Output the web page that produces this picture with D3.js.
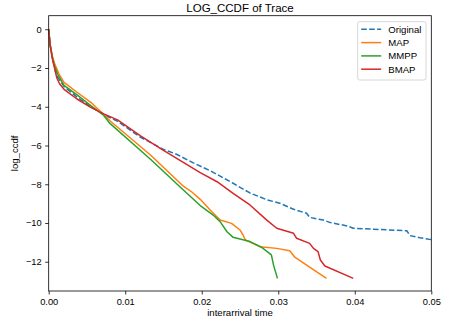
<!DOCTYPE html>
<html>
<head>
<meta charset="utf-8">
<script src="https://cdn.jsdelivr.net/npm/d3@7"></script>
<style>
  body { margin: 0; background: #fff; }
  svg text { font-family: "Liberation Sans", Arial, sans-serif; }
</style>
</head>
<body>
<div id="place"></div>
<script>
// series: [interarrival time, log_ccdf]
const original = [[0,0],[0.00017,-0.76],[0.00047,-1.45],[0.0007,-1.85],[0.0009,-2.2],[0.00105,-2.4],[0.0013,-2.55],[0.002,-2.95],[0.0037,-3.5],[0.0055,-4.0],[0.0072,-4.4],[0.009,-4.75],[0.0119,-5.55],[0.015,-6.2],[0.0167,-6.45],[0.0189,-6.9],[0.0211,-7.3],[0.0241,-7.95],[0.0263,-8.45],[0.0285,-8.8],[0.0302,-8.98],[0.032,-9.29],[0.0337,-9.5],[0.0341,-9.71],[0.0359,-9.85],[0.0368,-9.98],[0.039,-10.15],[0.0398,-10.27],[0.0468,-10.4],[0.0472,-10.65],[0.0485,-10.76],[0.05,-10.86]];
const map = [[0,0],[0.00017,-0.74],[0.0005,-1.42],[0.0008,-1.8],[0.00135,-2.31],[0.002,-2.74],[0.0037,-3.25],[0.0055,-3.77],[0.0072,-4.4],[0.008,-4.72],[0.0133,-6.49],[0.0176,-8.1],[0.0187,-8.4],[0.0198,-8.78],[0.0211,-9.33],[0.0224,-9.85],[0.0239,-10.02],[0.025,-10.36],[0.0254,-10.62],[0.0257,-10.88],[0.0267,-11.05],[0.0276,-11.22],[0.0298,-11.31],[0.0315,-11.43],[0.0322,-11.78],[0.0363,-12.86]];
const mmpp = [[0,0],[0.00017,-0.76],[0.00047,-1.45],[0.0007,-1.82],[0.0012,-2.35],[0.002,-2.9],[0.0037,-3.39],[0.0055,-3.94],[0.0072,-4.45],[0.008,-4.86],[0.0133,-6.71],[0.0176,-8.3],[0.0198,-9.1],[0.0215,-9.59],[0.0224,-9.93],[0.0233,-10.45],[0.0241,-10.74],[0.0263,-10.96],[0.0278,-11.25],[0.0291,-11.65],[0.0294,-12.2],[0.0299,-12.86]];
const bmap = [[0,0],[0.00017,-0.78],[0.00047,-1.5],[0.0007,-1.9],[0.00105,-2.5],[0.0014,-2.8],[0.002,-3.1],[0.0037,-3.6],[0.0055,-4.03],[0.0072,-4.37],[0.009,-4.68],[0.012,-5.5],[0.015,-6.25],[0.0198,-7.4],[0.022,-7.87],[0.0241,-8.47],[0.0263,-9.07],[0.0285,-9.85],[0.0298,-10.27],[0.032,-10.53],[0.0324,-10.79],[0.0341,-11.05],[0.0346,-11.31],[0.0352,-11.48],[0.0355,-11.91],[0.0361,-12.22],[0.0398,-12.86]];

const seriesNames = ["Original", "MAP", "MMPP", "BMAP"];
const xTicks = [0, 0.01, 0.02, 0.03, 0.04, 0.05];
const yTicks = [0, -2, -4, -6, -8, -10, -12];

const W = 453, H = 324;
const box = { left: 48.7, right: 431.3, top: 15.7, bottom: 291 };

const svg = d3.select("#place").append("svg")
    .attr("width", W)
    .attr("height", H);

const x = d3.scaleLinear().domain([0, 0.05]).range([box.left, box.right]);
const y = d3.scaleLinear().domain([-13.51, 0.70]).range([box.bottom, box.top]);

svg.append("defs").append("clipPath").attr("id", "plot")
  .append("rect")
    .attr("x", box.left).attr("y", box.top)
    .attr("width", box.right - box.left).attr("height", box.bottom - box.top);

const series = [
  { name: seriesNames[0], data: original, color: "#1f77b4", dash: "5.55,2.4" },
  { name: seriesNames[1], data: map, color: "#ff7f0e", dash: null },
  { name: seriesNames[2], data: mmpp, color: "#2ca02c", dash: null },
  { name: seriesNames[3], data: bmap, color: "#d62728", dash: null }
];

const line = d3.line().x(d => x(d[0])).y(d => y(d[1]));

svg.append("g")
    .attr("clip-path", "url(#plot)")
  .selectAll("path")
    .data(series)
  .enter().append("path")
    .attr("d", d => line(d.data))
    .attr("fill", "none")
    .attr("stroke", d => d.color)
    .attr("stroke-width", 1.5)
    .attr("stroke-dasharray", d => d.dash)
    .attr("stroke-linejoin", "round");

// axes
const xAxis = svg.append("g")
    .attr("transform", "translate(0," + box.bottom + ")")
    .call(d3.axisBottom(x).tickValues(xTicks).tickFormat(d3.format(".2f")).tickSize(3.5).tickPadding(3.5));

const yAxis = svg.append("g")
    .attr("transform", "translate(" + box.left + ",0)")
    .call(d3.axisLeft(y).tickValues(yTicks).tickFormat(d3.format("d")).tickSize(3.5).tickPadding(3.5));

[xAxis, yAxis].forEach(a => {
  a.select(".domain").remove();
  a.selectAll("line").attr("stroke", "#000").attr("stroke-width", 0.8);
  a.selectAll("text").attr("font-size", 9.3).attr("fill", "#000")
    .style("font-family", "'Liberation Sans', Arial, sans-serif");
});

// frame
svg.append("rect")
    .attr("x", box.left).attr("y", box.top)
    .attr("width", box.right - box.left).attr("height", box.bottom - box.top)
    .attr("fill", "none")
    .attr("stroke", "#000")
    .attr("stroke-width", 0.8);

// title & labels
svg.append("text")
    .attr("x", (box.left + box.right) / 2).attr("y", 11.5)
    .attr("text-anchor", "middle")
    .attr("font-size", 11.5)
    .text("LOG_CCDF of Trace");

svg.append("text")
    .attr("x", (box.left + box.right) / 2).attr("y", 315.5)
    .attr("text-anchor", "middle")
    .attr("font-size", 9.6)
    .text("interarrival time");

svg.append("text")
    .attr("transform", "translate(17.5," + ((box.top + box.bottom) / 2) + ") rotate(-90)")
    .attr("text-anchor", "middle")
    .attr("font-size", 9.6)
    .text("log_ccdf");

// legend
const legend = svg.append("g").attr("transform", "translate(357.7,21.7)");
legend.append("rect")
    .attr("width", 68.3).attr("height", 58.3)
    .attr("rx", 2).attr("ry", 2)
    .attr("fill", "#fff").attr("fill-opacity", 0.8)
    .attr("stroke", "#ccc").attr("stroke-width", 0.8);

const item = legend.selectAll("g.item")
    .data(series)
  .enter().append("g")
    .attr("class", "item")
    .attr("transform", (d, i) => "translate(0," + (7.6 + i * 13.3) + ")");

item.append("line")
    .attr("x1", 3.5).attr("x2", 23.5)
    .attr("stroke", d => d.color)
    .attr("stroke-width", 1.5)
    .attr("stroke-dasharray", d => d.dash);

item.append("text")
    .attr("x", 30.6).attr("y", 3.4)
    .attr("font-size", 9.6)
    .text(d => d.name);
</script>
</body>
</html>
